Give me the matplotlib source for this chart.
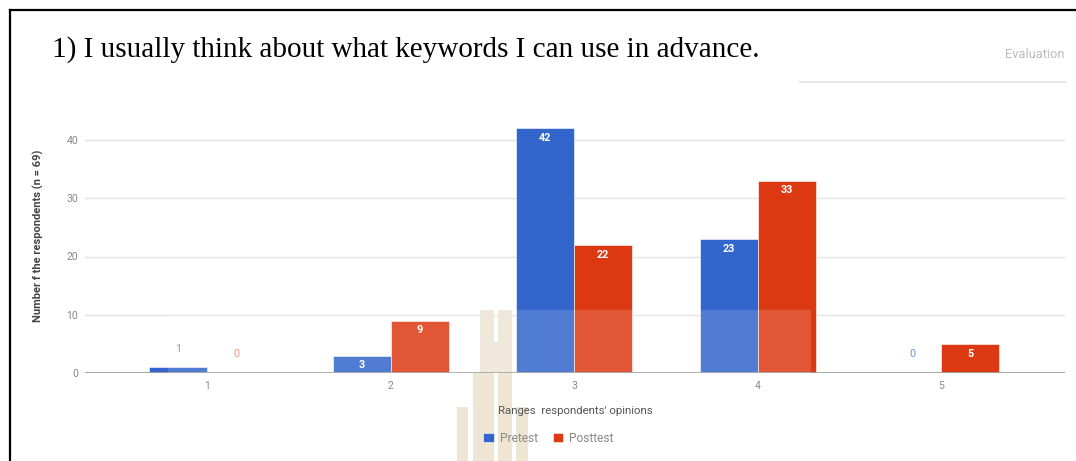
import matplotlib
matplotlib.use("Agg")
import matplotlib.pyplot as plt
from matplotlib.patches import Rectangle
import numpy as np

categories = ["1", "2", "3", "4", "5"]
pretest = [1, 3, 42, 23, 0]
posttest = [0, 9, 22, 33, 5]
series_names = ["Pretest", "Posttest"]
yticks = [0, 10, 20, 30, 40]
title = "1) I usually think about what keywords I can use in advance."
xlabel = "Ranges  respondents' opinions"
ylabel = "Number f the respondents (n = 69)"

BLUE = "#3366CC"
RED = "#DC3912"
W, H = 1076, 461
fig = plt.figure(figsize=(W / 100, H / 100), dpi=100)
fig.patch.set_facecolor("white")

def fx(px):
    return px / W

def fy(py):
    return 1 - py / H

# watermark (behind the axes)
tan = "#EEE5D4"
for (x0, y0, x1, y1) in [(480, 310, 494, 461), (498, 310, 512, 461), (494, 342, 498, 372),
                         (457, 407, 468, 461), (473, 372, 490, 461), (500, 372, 512, 461),
                         (516, 407, 528, 461)]:
    fig.add_artist(Rectangle((fx(x0), fy(y1)), fx(x1) - fx(x0), fy(y0) - fy(y1),
                             facecolor=tan, edgecolor="none", zorder=0))

ax = fig.add_axes([fx(85), fy(373), fx(1065) - fx(85), fy(373 - 45 * 5.825) - fy(373)])
ax.patch.set_alpha(0)
x = np.arange(1, len(categories) + 1)
bw = 0.316
b1 = ax.bar(x - bw / 2, pretest, bw, color=BLUE, edgecolor="white", linewidth=0.4, zorder=3, label=series_names[0])
b2 = ax.bar(x + bw / 2, posttest, bw, color=RED, edgecolor="white", linewidth=0.4, zorder=3, label=series_names[1])

ax.set_xlim(0.335, 5.675)
ax.set_ylim(0, 45)
ax.set_yticks(yticks)
ax.set_xticks(x)
ax.set_xticklabels(categories)
for s in ax.spines.values():
    s.set_visible(False)
ax.tick_params(length=0, labelsize=7.5, colors="#888888", pad=5)
ax.tick_params(axis="x", pad=6)
for lab in ax.get_xticklabels() + ax.get_yticklabels():
    lab.set_fontfamily("Roboto")
for t in yticks[1:]:
    ax.axhline(t, color="#E3E3E3", linewidth=1, zorder=1)
ax.axhline(0, color="#9E9E9E", linewidth=1.3, zorder=4)

# value labels
light = {BLUE: "#6A90DB", RED: "#EE8A70"}
for bars, vals, col in ((b1, pretest, BLUE), (b2, posttest, RED)):
    for rect, v in zip(bars, vals):
        cx = rect.get_x() + rect.get_width() / 2
        if v >= 3:
            ax.annotate(str(v), (cx, v), xytext=(0, -7), textcoords="offset points",
                        ha="center", va="center", color="white", fontsize=7.8, fontweight="bold",
                        fontfamily="Roboto", zorder=6)
        else:
            off = 13 if v > 0 else 13.5
            ax.annotate(str(v), (cx, v), xytext=(0, off), textcoords="offset points",
                        ha="center", va="center", color=light[col], fontsize=7.8,
                        fontfamily="Roboto", zorder=6)

ax.set_xlabel(xlabel, fontsize=8.2, color="#555555", fontfamily="Roboto")
ax.xaxis.set_label_coords(0.5, -0.145)
ax.xaxis.label.set_va("center")
ax.set_ylabel(ylabel, fontsize=8, color="#444444", fontweight="bold", fontfamily="Roboto")
ax.yaxis.set_label_coords(-0.048, 0.523)
ax.yaxis.label.set_va("center")

leg = ax.legend(loc="center", bbox_to_anchor=(0.473, -0.248), ncol=2, frameon=False,
                handlelength=0.85, handleheight=0.85, columnspacing=1.3,
                handletextpad=0.5, prop={"family": "Roboto", "size": 8.6})
for t in leg.get_texts():
    t.set_color("#888888")

# title and decoration
fig.text(fx(52), fy(50), title, fontsize=21, fontfamily="Liberation Serif", va="center", ha="left")
fig.text(fx(1065), fy(54), "Evaluation", fontsize=9.3, color="#BBBBBB", ha="right", va="center", fontfamily="Roboto")
fig.add_artist(plt.Line2D([fx(800), fx(1065)], [fy(82), fy(82)], color="#E6E6E6", linewidth=1.5))

# light overlay band of the watermark
fig.add_artist(Rectangle((fx(168), fy(373)), fx(811) - fx(168), fy(310) - fy(373),
                         facecolor="white", alpha=0.15, edgecolor="none", zorder=10))

# border
fig.add_artist(plt.Line2D([fx(10), fx(10)], [fy(10), 0], color="black", linewidth=1.6, zorder=11))
fig.add_artist(plt.Line2D([fx(10), 1], [fy(10), fy(10)], color="black", linewidth=1.6, zorder=11))

fig.savefig("out.png", dpi=100)
